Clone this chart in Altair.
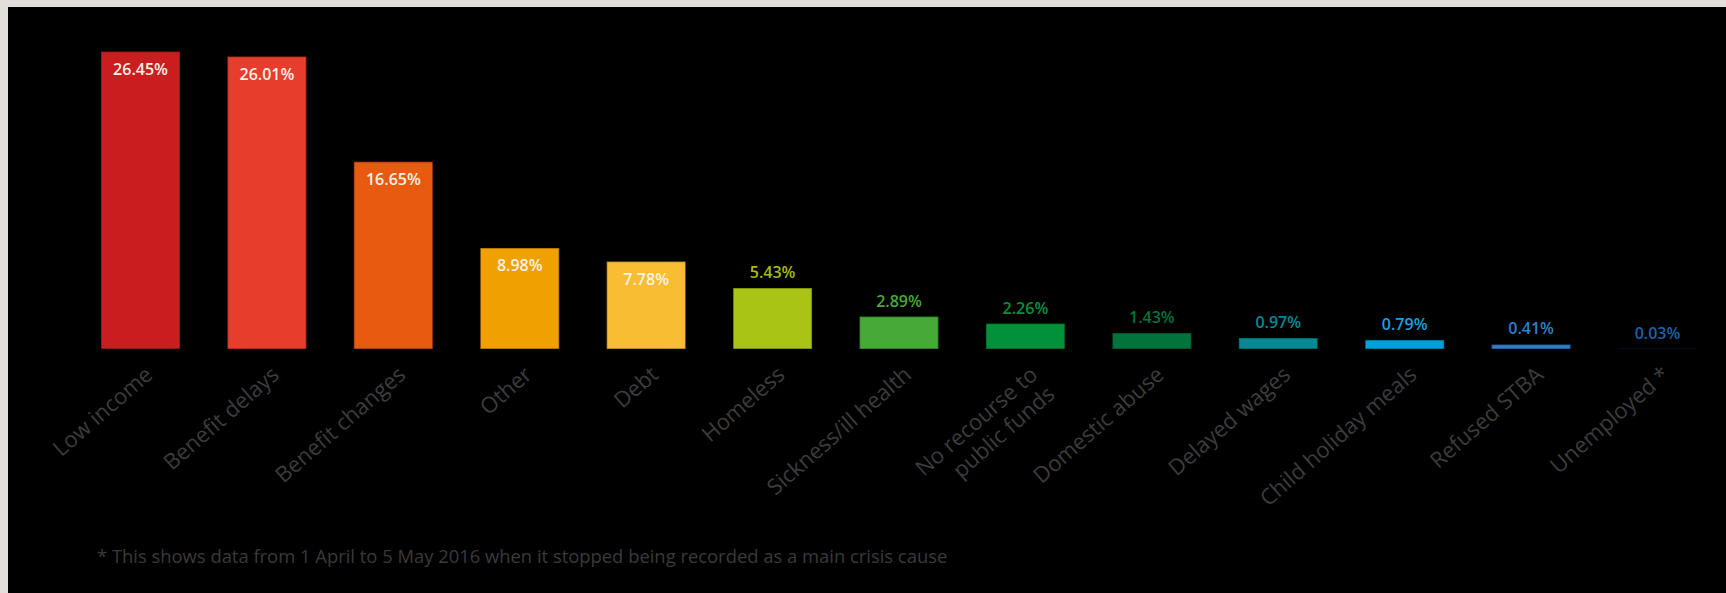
import altair as alt
import pandas as pd

categories = ["Low income", "Benefit delays", "Benefit changes", "Other", "Debt",
              "Homeless", "Sickness/ill health", "No recourse to public funds",
              "Domestic abuse", "Delayed wages", "Child holiday meals",
              "Refused STBA", "Unemployed *"]
values = [26.45, 26.01, 16.65, 8.98, 7.78, 5.43, 2.89, 2.26, 1.43, 0.97, 0.79, 0.41, 0.03]
labels = ["26.45%", "26.01%", "16.65%", "8.98%", "7.78%", "5.43%", "2.89%", "2.26%",
          "1.43%", "0.97%", "0.79%", "0.41%", "0.03%"]
bar_colors = ["#c81e1f", "#e63d2d", "#e85a10", "#f0a000", "#f8bd32", "#aac416",
              "#46aa36", "#00913a", "#00743a", "#008a94", "#00a0e0", "#2a7fd0", "#1a5a9a"]
label_colors = ["#fbf1e6", "#fbf1e6", "#fbf1e6", "#fbf1e6", "#fbf1e6", "#a8bc10",
                "#46aa36", "#00913a", "#00743a", "#008a94", "#1aa0e0", "#2a80d0", "#1a64a8"]
inside = [True, True, True, True, True, False, False, False, False, False, False, False, False]

df = pd.DataFrame({"cat": categories, "val": values, "lbl": labels,
                   "bar": bar_colors, "lc": label_colors, "inside": inside})

x = alt.X("cat:N", sort=None, title=None,
          scale=alt.Scale(paddingInner=0.375, paddingOuter=0),
          axis=alt.Axis(labelAngle=-41, labelAlign="right", labelBaseline="middle",
                        labelFont="Open Sans", labelFontSize=22, labelColor="#3c3c3c",
                        labelPadding=22, labelOffset=9, tickSize=0, ticks=False,
                        domain=False, labelOverlap=False, labelLineHeight=26, zindex=2,
                        labelLimit=0,
                        labelExpr="datum.label == 'No recourse to public funds' ? ['No recourse to', 'public funds'] : datum.label"))
y = alt.Y("val:Q", title=None, scale=alt.Scale(domain=[0, 26.5], nice=False), axis=None)

bg = alt.Chart(pd.DataFrame({"a": [0]})).mark_rect(color="#000000").encode(
    x=alt.value(-93), x2=alt.value(1625), y=alt.value(-44), y2=alt.value(542))

bars = alt.Chart(df).mark_bar(stroke="#000000", strokeOpacity=0.35, strokeWidth=1.5).encode(
    x=x, y=y, color=alt.Color("bar:N", scale=None))

txt_in = alt.Chart(df).transform_filter("datum.inside").mark_text(
    font="Open Sans", fontSize=16, fontWeight=600, baseline="middle", dy=18).encode(
    x=x, y=y, text="lbl:N", color=alt.Color("lc:N", scale=None))

txt_out = alt.Chart(df).transform_filter("!datum.inside").mark_text(
    font="Open Sans", fontSize=16, fontWeight=600, baseline="middle", dy=-15).encode(
    x=x, y=y, text="lbl:N", color=alt.Color("lc:N", scale=None))

note = alt.Chart(pd.DataFrame({"t": ["* This shows data from 1 April to 5 May 2016 when it stopped being recorded as a main crisis cause"]})).mark_text(
    font="Open Sans", fontSize=18.4, color="#3a3a3a", align="left", baseline="middle").encode(
    x=alt.value(-4), y=alt.value(506), text="t:N")

chart = alt.layer(bg, bars, txt_in, txt_out, note).properties(
    width=1596, height=298,
    autosize=alt.AutoSizeParams(type="none"),
    padding={"left": 101, "top": 51, "right": 29, "bottom": 244},
    background="#e2dfdb",
).configure_view(strokeWidth=0)

chart.save("out.html", embed_options={"renderer": "svg", "actions": False})
